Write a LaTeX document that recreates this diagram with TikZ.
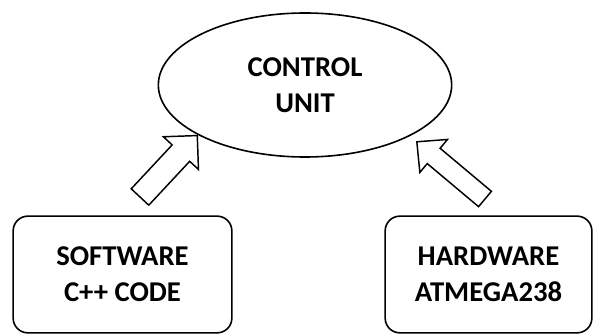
\documentclass[tikz,border=0pt]{standalone}
\usepackage{fontspec}
\setmainfont{Carlito}
\usetikzlibrary{shapes.geometric}
\tikzset{
  label font/.style={font=\bfseries\fontsize{21.5}{27}\selectfont, align=center},
  unit/.style={ellipse, draw, line width=1.2pt, minimum width=220pt, minimum height=108pt, label font},
  part/.style={draw, rounded corners=11pt, line width=1.2pt, label font},
  blockarrow/.style={draw, line width=1.1pt, fill=white, line join=miter}
}
\begin{document}
\begin{tikzpicture}[x=0.75pt, y=-0.75pt]
                \useasboundingbox (0,0) rectangle (593,334);
                \node[unit] (cu) at (305,85) {CONTROL\\UNIT};
                \node[part, minimum width=164pt, minimum height=87.5pt] (sw) at (122.5,274.5) {SOFTWARE\\C++ CODE};
                \node[part, minimum width=155pt, minimum height=87.5pt] (hw) at (488.5,274.5) {HARDWARE\\ATMEGA238};

                \coordinate (swtail) at (140,197);
                \coordinate (hwtail) at (485,199);

                \draw[blockarrow, shift={(swtail)}, rotate=47] (0,-12) -- (60,-12) -- (60,-24) -- (84,0) -- (60,24) -- (60,12) -- (0,12) -- cycle;
                \draw[blockarrow, shift={(hwtail)}, rotate=140] (0,-10) -- (67,-10) -- (67,-21.5) -- (89,0) -- (67,21.5) -- (67,10) -- (0,10) -- cycle;
            \end{tikzpicture}
\end{document}
